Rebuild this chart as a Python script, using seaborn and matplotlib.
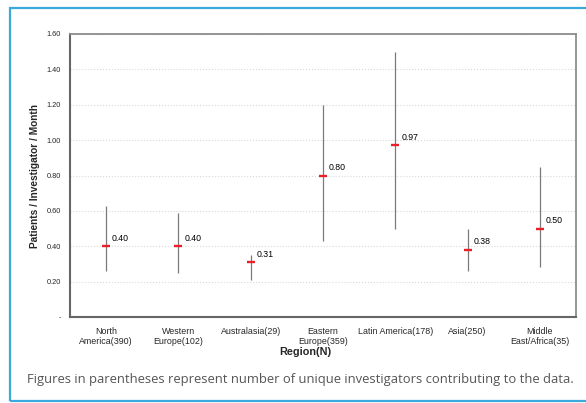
import matplotlib
matplotlib.use('Agg')
import matplotlib.pyplot as plt
import matplotlib.patches as mpatches
import matplotlib.ticker as mticker
import numpy as np
import pandas as pd
import seaborn as sns

# data
regions = ["North\nAmerica(390)", "Western\nEurope(102)", "Australasia(29)",
           "Eastern\nEurope(359)", "Latin America(178)", "Asia(250)",
           "Middle\nEast/Africa(35)"]
means = [0.40, 0.40, 0.31, 0.80, 0.97, 0.38, 0.50]
lows = [0.26, 0.25, 0.21, 0.43, 0.50, 0.26, 0.285]
highs = [0.63, 0.59, 0.35, 1.20, 1.50, 0.50, 0.85]
mean_labels = ["0.40", "0.40", "0.31", "0.80", "0.97", "0.38", "0.50"]

df = pd.DataFrame({"Region": regions, "Mean": means, "Low": lows, "High": highs})

sns.set_theme(style="white")
plt.rcParams['font.family'] = ['Liberation Sans', 'DejaVu Sans']

fig = plt.figure(figsize=(5.86, 4.03), dpi=100)
ax = fig.add_axes([70 / 586, 1 - 317 / 403, 506 / 586, 283 / 403])

# gridlines behind everything
ax.set_axisbelow(True)
ax.yaxis.grid(True, color='#d9d9d9', linestyle=':', linewidth=0.8)

# range whiskers
ax.vlines(np.arange(len(df)), df["Low"], df["High"], color='#7a7a7a', linewidth=0.9, zorder=2)

# means as red dashes
sns.pointplot(data=df, x="Region", y="Mean", linestyle="none", marker="_",
              markersize=6, markeredgewidth=1.7, color='#e8202a', errorbar=None,
              ax=ax, zorder=3)

for i, (m, lab) in enumerate(zip(df["Mean"], mean_labels)):
    ax.annotate(lab, (i, m), xytext=(4.3, 2.5), textcoords='offset points',
                ha='left', va='bottom', fontsize=6.3, color='black')

ax.set_xlim(-0.5, len(df) - 0.5)
ax.set_ylim(0, 1.6)
ax.yaxis.set_major_locator(mticker.MultipleLocator(0.2))
ax.yaxis.set_major_formatter(mticker.FuncFormatter(lambda v, p: "-" if abs(v) < 1e-9 else f"{v:.2f}"))
ax.tick_params(axis='y', labelsize=5.3, length=2.5, width=0.8, color='#666666', pad=4)

ax.set_xticks(np.arange(len(df)))
ax.set_xticklabels(regions, fontsize=6.4, linespacing=1.25)
ax.set_xticks(np.arange(0.5, len(df) - 0.5, 1), minor=True)
ax.tick_params(axis='x', which='major', length=0, pad=7)
ax.tick_params(axis='x', which='minor', length=3, width=0.8, color='#777777', direction='out')

for side in ['left', 'bottom']:
    ax.spines[side].set_color('#666666')
    ax.spines[side].set_linewidth(1.5)
for side in ['top', 'right']:
    ax.spines[side].set_color('#8c8c8c')
    ax.spines[side].set_linewidth(1.3)

ax.set_ylabel("Patients / Investigator / Month", fontsize=7.3, fontweight='bold', labelpad=5)
ax.set_xlabel("")
fig.text(305 / 586, 1 - 352 / 403, "Region(N)", ha='center', va='center',
         fontsize=7.8, fontweight='bold')

fig.text(27 / 586, 1 - 379 / 403,
         "Figures in parentheses represent number of unique investigators contributing to the data.",
         ha='left', va='center', fontsize=9.4, color='#555555', family=['Open Sans', 'DejaVu Sans'])

# blue frame around the figure (open on the right)
fig.add_artist(mpatches.Rectangle((10 / 586, 1 - 401 / 403), 600 / 586, 393 / 403,
                                  transform=fig.transFigure, fill=False,
                                  edgecolor='#3ba9dc', linewidth=1.6))

plt.savefig("out.png", dpi=100)
plt.close()
